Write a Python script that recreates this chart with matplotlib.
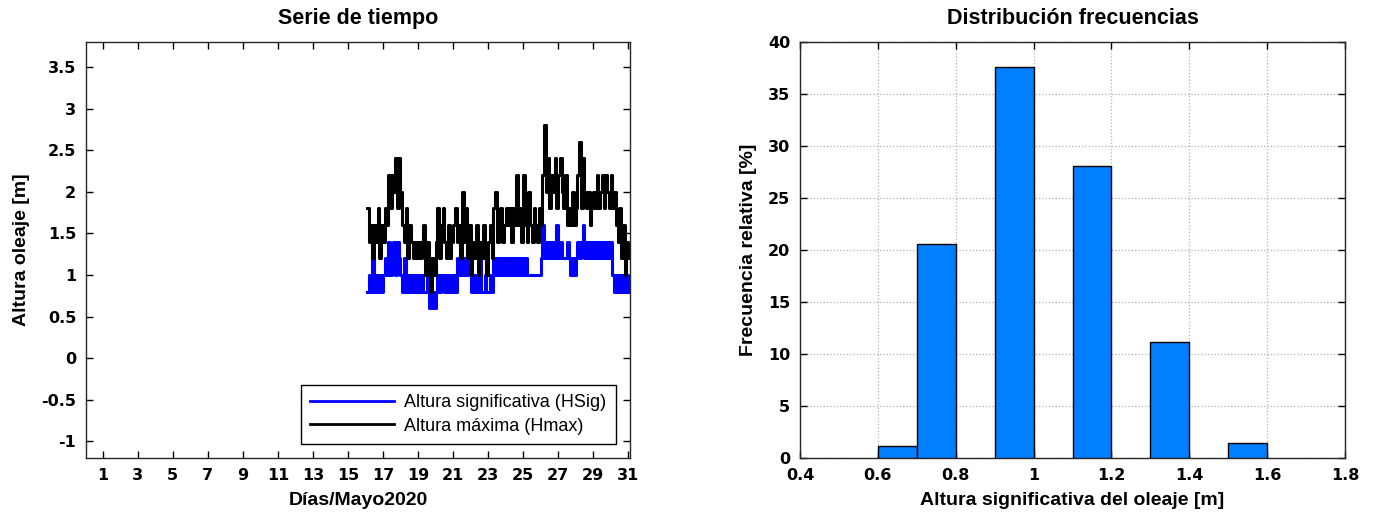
import numpy as np
import matplotlib
matplotlib.use("Agg")
import matplotlib.pyplot as plt

# -------------------------------
# DATOS
# -------------------------------
# muestreo cada 0.1 dia, del 16.1 al 31.0 de mayo
dias = np.round(np.arange(16.1, 31.01, 0.1), 2)

hmax = [
    1.8, 1.4, 1.6, 1.2, 1.6, 1.4, 1.8, 1.2, 1.6, 1.4,   # 16
    1.8, 1.6, 2.2, 1.8, 2.2, 2.0, 2.4, 1.8, 2.4, 2.0,   # 17
    1.6, 1.4, 1.8, 1.2, 1.6, 1.4, 1.2, 1.4, 1.2, 1.4,   # 18
    1.2, 1.4, 1.6, 1.0, 1.4, 1.2, 0.8, 1.2, 1.0, 1.4,   # 19
    1.8, 1.2, 1.6, 1.8, 1.4, 1.2, 1.6, 1.2, 1.4, 1.6,   # 20
    1.8, 1.4, 1.6, 1.2, 2.0, 1.4, 1.8, 1.2, 1.6, 1.0,   # 21
    1.4, 1.2, 1.6, 1.0, 1.4, 1.2, 1.6, 1.2, 1.0, 1.4,   # 22
    1.6, 1.2, 1.8, 2.0, 1.4, 1.6, 1.8, 1.4, 1.6, 1.8,   # 23
    1.6, 1.8, 1.4, 1.8, 1.6, 2.2, 1.6, 1.8, 1.4, 2.2,   # 24
    1.6, 1.4, 2.0, 1.6, 1.4, 1.8, 1.6, 1.4, 1.8, 1.6,   # 25
    2.2, 2.8, 2.0, 2.4, 1.8, 2.2, 2.0, 2.4, 1.8, 2.2,   # 26
    2.4, 2.0, 1.8, 2.2, 1.6, 1.8, 1.6, 2.0, 1.6, 1.8,   # 27
    2.2, 2.6, 1.8, 2.4, 2.0, 1.8, 2.0, 1.6, 1.8, 2.0,   # 28
    1.8, 2.2, 1.8, 2.0, 2.2, 1.8, 2.2, 2.0, 1.8, 2.2,   # 29
    1.8, 2.0, 1.6, 1.4, 1.8, 1.2, 1.6, 1.0, 1.4, 1.2,   # 30
]

hsig = [
    0.8, 1.0, 0.8, 1.2, 0.8, 1.0, 0.8, 1.0, 0.8, 1.0,   # 16
    1.2, 1.0, 1.4, 1.0, 1.2, 1.4, 1.0, 1.4, 1.2, 1.0,   # 17
    0.8, 1.2, 0.8, 1.0, 0.8, 1.0, 0.8, 1.0, 0.8, 1.0,   # 18
    0.8, 1.0, 0.8, 0.8, 1.0, 0.6, 0.6, 0.8, 0.6, 0.8,   # 19
    1.0, 0.8, 1.0, 1.0, 0.8, 1.0, 0.8, 1.0, 0.8, 1.0,   # 20
    0.8, 1.2, 1.0, 1.2, 1.0, 1.2, 1.0, 1.2, 1.0, 0.8,   # 21
    1.0, 0.8, 1.0, 0.8, 1.2, 0.8, 0.8, 1.0, 0.8, 0.8,   # 22
    1.0, 0.8, 1.2, 1.0, 1.2, 1.0, 1.2, 1.0, 1.2, 1.0,   # 23
    1.2, 1.0, 1.2, 1.0, 1.2, 1.0, 1.2, 1.0, 1.2, 1.0,   # 24
    1.2, 1.0, 1.0, 1.0, 1.0, 1.0, 1.0, 1.0, 1.0, 1.2,   # 25
    1.6, 1.2, 1.4, 1.2, 1.4, 1.2, 1.4, 1.2, 1.6, 1.2,   # 26
    1.4, 1.2, 1.2, 1.2, 1.4, 1.2, 1.0, 1.2, 1.0, 1.2,   # 27
    1.4, 1.2, 1.4, 1.6, 1.2, 1.4, 1.2, 1.4, 1.2, 1.4,   # 28
    1.2, 1.4, 1.2, 1.4, 1.2, 1.4, 1.2, 1.4, 1.2, 1.4,   # 29
    1.0, 0.8, 1.0, 0.8, 1.0, 0.8, 1.0, 0.8, 1.0, 0.8,   # 30
]

# histograma de HSig
bordes_izq = [0.6, 0.7, 0.9, 1.1, 1.3, 1.5]
frecuencia = [1.2, 20.6, 37.6, 28.1, 11.2, 1.4]
ancho_bin = 0.1

dias_ticks = list(range(1, 32, 2))

# -------------------------------
# FIGURA
# -------------------------------
plt.rcParams['font.family'] = ['Liberation Sans', 'DejaVu Sans']

fig = plt.figure(figsize=(13.75, 5.2), dpi=100)
ax1 = fig.add_axes([86/1375, 1-458/520, 544/1375, 416/520])
ax2 = fig.add_axes([800/1375, 1-458/520, 545/1375, 416/520])

# serie de tiempo
ax1.plot(dias, hsig, color='blue', lw=2.2, drawstyle='steps-post',
         label='Altura significativa (HSig)')
ax1.plot(dias, hmax, color='black', lw=2.2, drawstyle='steps-post',
         label='Altura máxima (Hmax)')
ax1.set_xlim(0.05, 31.1)
ax1.set_ylim(-1.2, 3.8)
ax1.set_xticks(dias_ticks)
ax1.set_yticks(np.arange(-1, 3.6, 0.5))
ax1.set_yticklabels(['-1', '-0.5', '0', '0.5', '1', '1.5', '2', '2.5', '3', '3.5'])
ax1.set_title('Serie de tiempo', fontsize=15.5, fontweight='bold', pad=13)
ax1.set_xlabel('Días/Mayo2020', fontsize=14, fontweight='bold', labelpad=7)
ax1.set_ylabel('Altura oleaje [m]', fontsize=14, fontweight='bold', labelpad=8)
leg = ax1.legend(loc='lower right', handlelength=4.7, fancybox=False,
                 framealpha=1, edgecolor='black', borderpad=0.5, labelspacing=0.35,
                 borderaxespad=0.8, handletextpad=0.55,
                 prop={'weight': 'normal', 'size': 13})
leg.get_frame().set_linewidth(1.0)
for ln in leg.get_lines():
    ln.set_linewidth(2.0)

# distribucion
ax2.bar(bordes_izq, frecuencia, width=ancho_bin, align='edge', color='#0080ff',
        edgecolor='black', linewidth=1.0, zorder=3)
ax2.set_xlim(0.4, 1.8)
ax2.set_ylim(0, 40)
ax2.set_xticks(np.arange(0.4, 1.81, 0.2))
ax2.set_xticklabels(['0.4', '0.6', '0.8', '1', '1.2', '1.4', '1.6', '1.8'])
ax2.set_yticks(range(0, 41, 5))
ax2.grid(True, linestyle=':', color='#b0b0b0', linewidth=0.9, zorder=0)
ax2.set_title('Distribución frecuencias', fontsize=15.5, fontweight='bold', pad=13)
ax2.set_xlabel('Altura significativa del oleaje [m]', fontsize=14, fontweight='bold', labelpad=7)
ax2.set_ylabel('Frecuencia relativa [%]', fontsize=14, fontweight='bold', labelpad=8)

for ax in (ax1, ax2):
    ax.tick_params(direction='in', top=True, right=True, length=5, width=1, pad=7)
    for lab in ax.get_xticklabels() + ax.get_yticklabels():
        lab.set_fontfamily('DejaVu Sans')
        lab.set_fontweight('bold')
        lab.set_fontsize(11.5)
    for s in ax.spines.values():
        s.set_linewidth(1.0)
        s.set_color('#262626')

fig.savefig('out.png', dpi=100)
